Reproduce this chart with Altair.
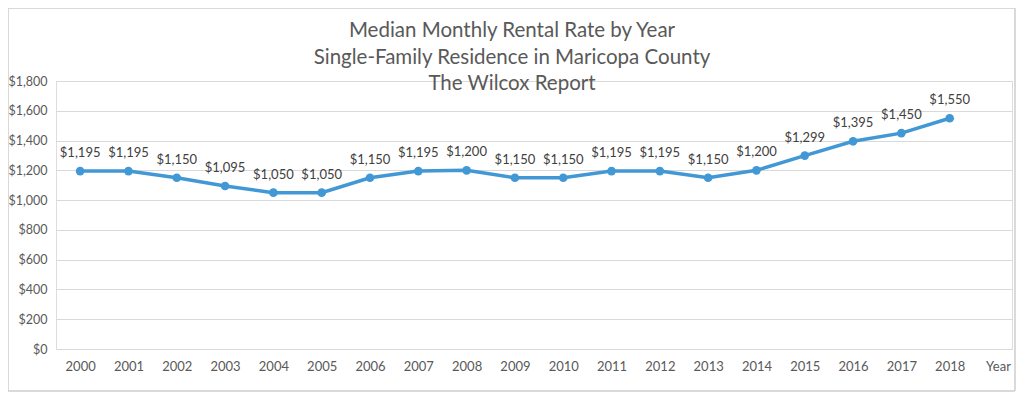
import altair as alt
import pandas as pd

years = list(range(2000, 2019))
rents = [1195, 1195, 1150, 1095, 1050, 1050, 1150, 1195, 1200, 1150, 1150,
         1195, 1195, 1150, 1200, 1299, 1395, 1450, 1550]
x_ticks = list(range(2000, 2020))
y_ticks = [0, 200, 400, 600, 800, 1000, 1200, 1400, 1600, 1800]
title_lines = ["Median Monthly Rental Rate by Year",
               "Single-Family Residence in Maricopa County",
               "The Wilcox Report"]

df = pd.DataFrame({"year": years, "rent": rents})
df["label"] = df["rent"].map(lambda v: "${:,}".format(v))
tdf = pd.DataFrame({"line": title_lines, "i": [0, 1, 2]})

FONT = "Lato"
BLUE = "#4298d4"
GREY = "#595959"

x = alt.X("year:Q",
          scale=alt.Scale(domain=[1999.5, 2019.29], nice=False, zero=False),
          axis=alt.Axis(values=x_ticks, title=None, grid=False, domain=False, ticks=False,
                        labelExpr="datum.value == 2019 ? 'Year' : datum.value",
                        labelFont=FONT, labelFontSize=13, labelColor=GREY, labelPadding=11,
                        labelFlush=False, labelOverlap=False))
y = alt.Y("rent:Q",
          scale=alt.Scale(domain=[0, 1800], nice=False),
          axis=alt.Axis(values=y_ticks, format="$,d", title=None, domain=False, ticks=False,
                        gridColor="#d9d9d9", gridWidth=1, labelOverlap=False,
                        labelFont=FONT, labelFontSize=12.5, labelColor=GREY, labelPadding=9))

base = alt.Chart(df)
line = base.mark_line(color=BLUE, strokeWidth=3.5).encode(x=x, y=y)
pts = base.mark_point(filled=True, color=BLUE, size=75, opacity=1).encode(x=x, y=y)
labels = base.mark_text(font=FONT, fontSize=13, color="#404040", baseline="bottom", dy=-11).encode(
    x=x, y=y, text="label:N")

title_layers = [
    alt.Chart(tdf).transform_filter(alt.datum.i == k).mark_text(
        font=FONT, fontSize=20.5, color=GREY, align="center", baseline="middle"
    ).encode(x=alt.value(456), y=alt.value(yy), text="line:N")
    for k, yy in zip([0, 1, 2], [-50, -23, 3])
]

border = alt.Chart(df).mark_rect(fill=None, stroke="#d9d9d9", strokeWidth=1).encode(
    x=alt.value(-47.5), x2=alt.value(959), y=alt.value(-72.5), y2=alt.value(310))

chart = alt.layer(border, line, pts, labels, *title_layers).properties(
    width=956, height=268,
    padding={"left": 48, "top": 73, "right": 4, "bottom": 44},
    autosize=alt.AutoSizeParams(type="none"),
).configure_view(stroke=None).configure(background="white")

chart.save("out.html", embed_options={"renderer": "svg", "actions": False})
